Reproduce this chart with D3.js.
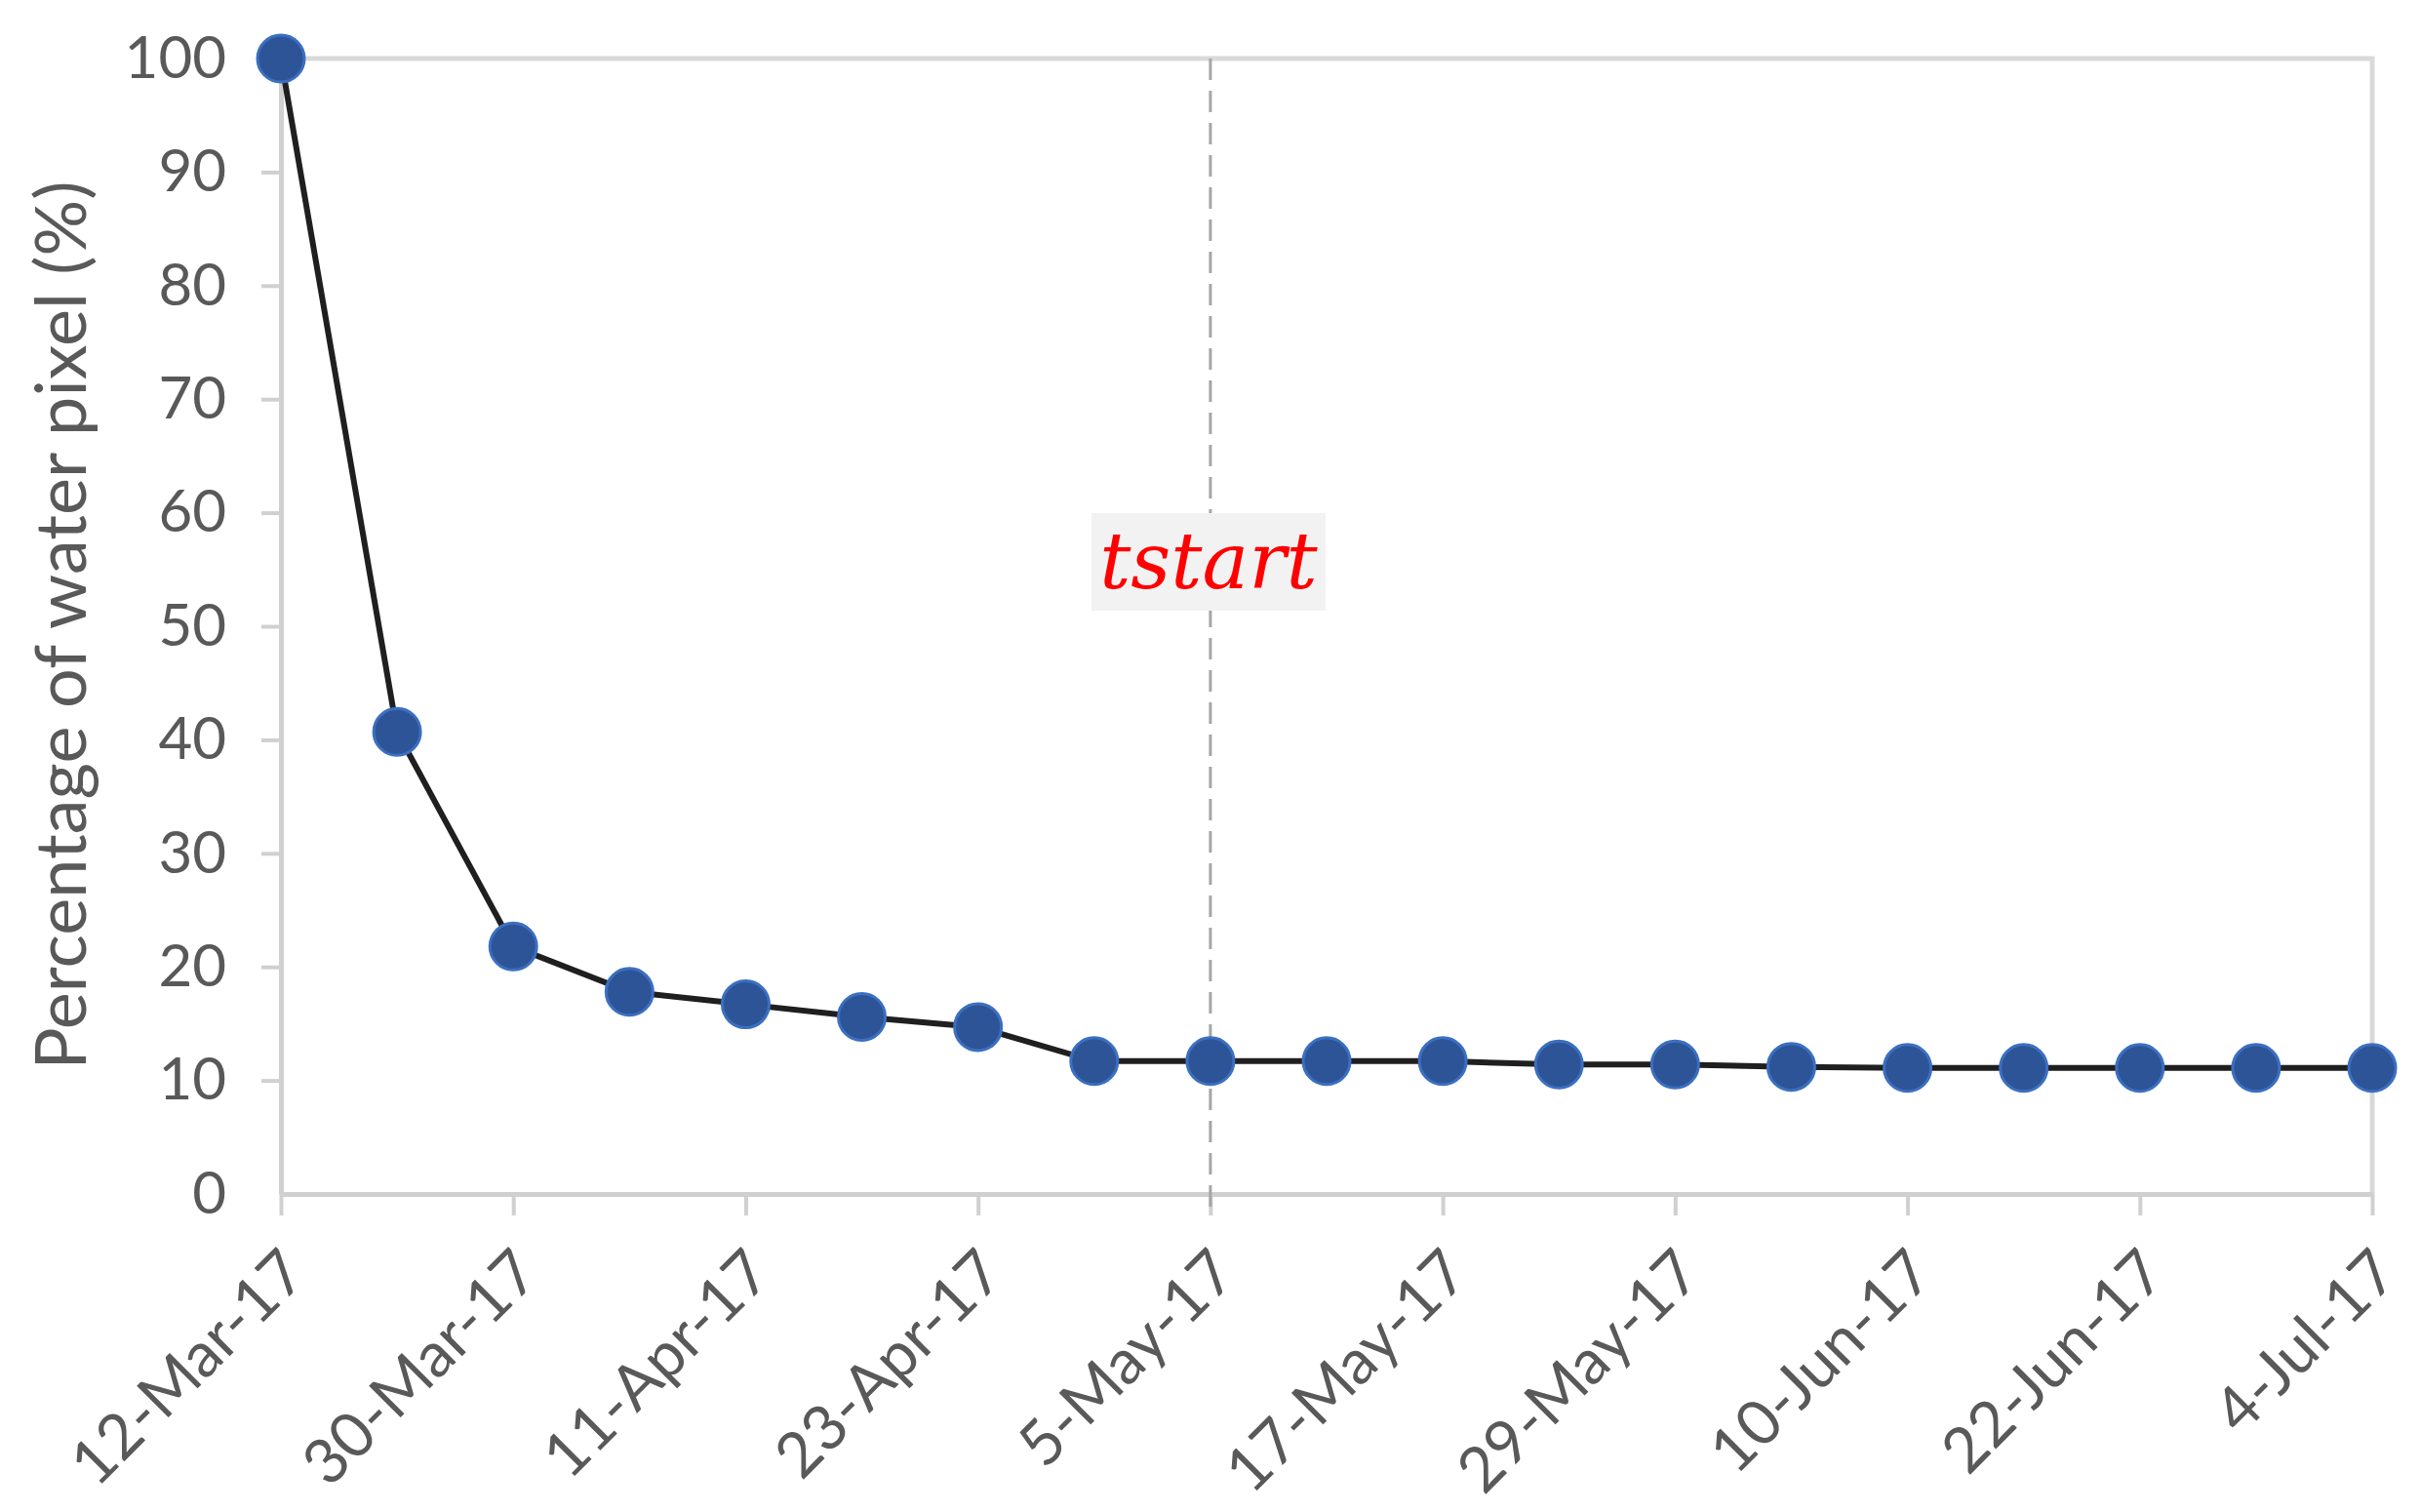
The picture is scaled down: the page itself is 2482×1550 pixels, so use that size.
<!DOCTYPE html>
<html>
<head>
<meta charset="utf-8">
<script src="https://cdn.jsdelivr.net/npm/d3@7"></script>
<style>
  html, body { margin: 0; padding: 0; background: #fff; }
  .axis text { font-family: Lato, "Open Sans", sans-serif; fill: #595959; }
</style>
</head>
<body>
<div id="chart"></div>
<script>
// categories (Excel text axis, one point every ~6 days)
const dates = ["12-Mar-17", "18-Mar-17", "30-Mar-17", "5-Apr-17", "11-Apr-17", "17-Apr-17",
               "23-Apr-17", "29-Apr-17", "5-May-17", "11-May-17", "17-May-17", "23-May-17",
               "29-May-17", "4-Jun-17", "10-Jun-17", "16-Jun-17", "22-Jun-17", "28-Jun-17", "4-Jul-17"];
const waterPct = [100, 40.7, 21.8, 17.8, 16.7, 15.6, 14.7, 11.7, 11.7, 11.7, 11.7, 11.4,
                  11.4, 11.2, 11.1, 11.1, 11.1, 11.1, 11.1];
const yTicks = [0, 10, 20, 30, 40, 50, 60, 70, 80, 90, 100];
const xTickLabels = ["12-Mar-17", "30-Mar-17", "11-Apr-17", "23-Apr-17", "5-May-17",
                     "17-May-17", "29-May-17", "10-Jun-17", "22-Jun-17", "4-Jul-17"];
const tstartDate = "5-May-17";
const tstartText = "tstart";

const W = 2482, H = 1550;
const margin = { top: 60, right: 50, bottom: 326, left: 288 };
const width = W - margin.left - margin.right;
const height = H - margin.top - margin.bottom;

const svg = d3.select("#chart").append("svg")
  .attr("width", W)
  .attr("height", H)
  .style("background", "#fff");

const g = svg.append("g")
  .attr("transform", `translate(${margin.left},${margin.top})`);

const x = d3.scalePoint().domain(dates).range([0, width]);
const y = d3.scaleLinear().domain([0, 100]).range([height, 0]);

// plot-area border (top and right)
g.append("path")
  .attr("d", `M0,${y(100)}H${width}V${height}`)
  .attr("fill", "none")
  .attr("stroke", "#d9d9d9")
  .attr("stroke-width", 5);

// axes
const yAxis = g.append("g")
  .attr("class", "axis")
  .call(d3.axisLeft(y).tickValues(yTicks).tickSize(20).tickPadding(36).tickSizeOuter(0));

const xAxis = g.append("g")
  .attr("class", "axis")
  .attr("transform", `translate(0,${height})`)
  .call(d3.axisBottom(x).tickValues(xTickLabels).tickSize(22).tickFormat("").tickSizeOuter(0));

g.selectAll(".axis .domain").attr("stroke", "#d0d0d0").attr("stroke-width", 5);
g.selectAll(".axis .tick line").attr("stroke", "#d0d0d0").attr("stroke-width", 4);
yAxis.selectAll("text").style("font-size", "60px");
yAxis.select(".tick line").remove();

// rotated date labels
xAxis.selectAll(".tick").append("text")
  .attr("transform", "translate(-4,52) rotate(-45)")
  .attr("text-anchor", "end")
  .attr("dy", "0.72em")
  .style("font-size", "64px")
  .text(d => d);

// tstart marker
const xs = x(tstartDate);
g.append("line")
  .attr("x1", xs).attr("x2", xs)
  .attr("y1", y(100)).attr("y2", height + 22)
  .attr("stroke", "#a6a6a6")
  .attr("stroke-width", 3)
  .attr("stroke-dasharray", "22,11");

g.append("rect")
  .attr("x", xs - 122).attr("y", 466)
  .attr("width", 240).attr("height", 100)
  .attr("fill", "#f2f2f2");

g.append("text")
  .attr("x", xs - 2).attr("y", 543)
  .attr("text-anchor", "middle")
  .style("font-family", "'DejaVu Serif', 'Liberation Serif', serif")
  .style("font-style", "italic")
  .style("font-size", "80px")
  .style("fill", "#ff0000")
  .text(tstartText);

// series
const data = dates.map((d, i) => ({ date: d, value: waterPct[i] }));

g.append("path")
  .datum(data)
  .attr("fill", "none")
  .attr("stroke", "#1f1f1f")
  .attr("stroke-width", 6)
  .attr("d", d3.line().x(d => x(d.date)).y(d => y(d.value)));

g.selectAll("circle.pt")
  .data(data)
  .enter().append("circle")
  .attr("class", "pt")
  .attr("cx", d => x(d.date))
  .attr("cy", d => y(d.value))
  .attr("r", 24)
  .attr("fill", "#2d5496")
  .attr("stroke", "#3b6fc1")
  .attr("stroke-width", 3);

// y label
svg.append("text")
  .attr("transform", `translate(63,641) rotate(-90)`)
  .attr("text-anchor", "middle")
  .attr("dy", "0.35em")
  .style("font-family", "Lato, 'Open Sans', sans-serif")
  .style("font-size", "72px")
  .style("fill", "#595959")
  .text("Percentage of water pixel (%)");
</script>
</body>
</html>
